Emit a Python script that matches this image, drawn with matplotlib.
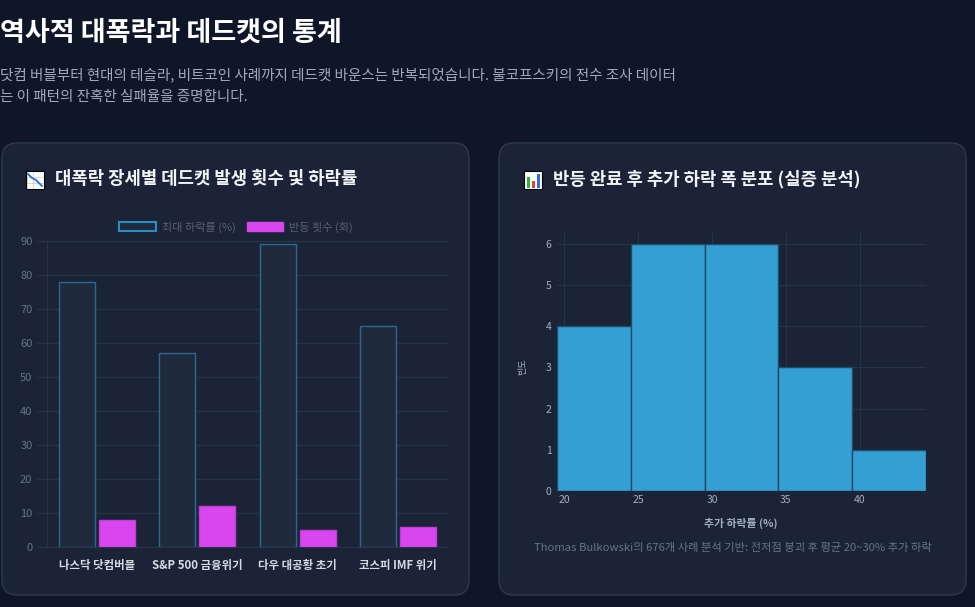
import matplotlib
matplotlib.use('Agg')
import matplotlib.pyplot as plt
from matplotlib.patches import FancyBboxPatch, Rectangle, Patch
import numpy as np

plt.rcParams['font.family'] = ['Noto Sans CJK KR', 'DejaVu Sans']

# data
crashes = ['나스닥 닷컴버블', 'S&P 500 금융위기', '다우 대공황 초기', '코스피 IMF 위기']
max_drop = [78, 57, 89, 65]
rebounds = [8, 12, 5, 6]

bin_left = [19.5, 24.5, 29.5, 34.5, 39.5]
bin_counts = [4, 6, 6, 3, 1]

BG = '#0e1628'
CARD = '#1b2436'
CARD_EDGE = '#2c3a4f'
GRID = '#283346'

W, H = 975, 607
fig = plt.figure(figsize=(W / 100, H / 100), dpi=100, facecolor=BG)

# background layer in pixel coords
bg = fig.add_axes([0, 0, 1, 1])
bg.set_xlim(0, W)
bg.set_ylim(H, 0)
bg.axis('off')
bg.set_facecolor(BG)

for x0 in (2, 499):
    bg.add_patch(FancyBboxPatch((x0, 143), 467, 452,
                                boxstyle='round,pad=0,rounding_size=15',
                                fc=CARD, ec=CARD_EDGE, lw=1))

bg.text(0, 33, '역사적 대폭락과 데드캣의 통계', color='white', fontsize=19.5,
        fontweight='bold', va='center', ha='left')
bg.text(0, 75, '닷컴 버블부터 현대의 테슬라, 비트코인 사례까지 데드캣 바운스는 반복되었습니다. 불코프스키의 전수 조사 데이터',
        color='#a0abbf', fontsize=10.5, va='center', ha='left')
bg.text(0, 97, '는 이 패턴의 잔혹한 실패율을 증명합니다.',
        color='#a0abbf', fontsize=10.5, va='center', ha='left')

# icons (emoji stand-ins)
bg.add_patch(Rectangle((26, 171), 18, 18, fc='white', ec='black', lw=0.8))
for g in (177, 183):
    bg.plot([27, 43], [g, g], color='#c8c8c8', lw=0.5)
    bg.plot([g - 150, g - 150], [172, 188], color='#c8c8c8', lw=0.5)
bg.plot([28, 32, 36, 42], [174, 178, 180, 186], color='#1e6fd9', lw=1.3)

bg.add_patch(Rectangle((524, 171), 18, 18, fc='white', ec='black', lw=0.8))
bg.add_patch(Rectangle((527, 177), 3, 11, fc='#2bb33a', lw=0))
bg.add_patch(Rectangle((532, 181), 3, 7, fc='#e8402a', lw=0))
bg.add_patch(Rectangle((537, 174), 3, 14, fc='#2a6fe0', lw=0))

bg.text(55, 179, '대폭락 장세별 데드캣 발생 횟수 및 하락률', color='#f1f5f9',
        fontsize=12.8, fontweight='bold', va='center', ha='left')
bg.text(553, 179, '반등 완료 후 추가 하락 폭 분포 (실증 분석)', color='#f1f5f9',
        fontsize=12.8, fontweight='bold', va='center', ha='left')


def fig_rect(x0, y0, x1, y1):
    return [x0 / W, 1 - y1 / H, (x1 - x0) / W, (y1 - y0) / H]


# left chart: grouped bars
ax1 = fig.add_axes(fig_rect(47, 241, 448, 547))
ax1.set_facecolor('none')
x = np.arange(len(crashes))
ax1.bar(x - 0.2, max_drop, width=0.36, color='#1f2a3d', edgecolor='#286a94',
        lw=1, zorder=3)
ax1.bar(x + 0.2, rebounds, width=0.36, color='#d946ef', edgecolor='#c23cd8',
        lw=1, zorder=3)
ax1.set_xlim(-0.5, 3.5)
ax1.set_ylim(0, 90)
ax1.set_yticks(range(0, 91, 10))
ax1.set_xticks(x)
ax1.set_xticklabels(crashes, fontsize=8.2, fontweight='bold', color='#d5dce6')
ax1.tick_params(axis='y', colors=GRID, labelcolor='#64748b', labelsize=8,
                length=7, width=1)
ax1.tick_params(axis='x', length=0, pad=9)
ax1.grid(axis='y', color=GRID, lw=1, zorder=0)
for s in ('top', 'right'):
    ax1.spines[s].set_visible(False)
for s in ('left', 'bottom'):
    ax1.spines[s].set_color(GRID)

handles = [Patch(fc='#1f2a3d', ec='#2a8fc0', lw=1.5, label='최대 하락률 (%)'),
           Patch(fc='#d946ef', ec='#d946ef', lw=1, label='반등 횟수 (회)')]
ax1.legend(handles=handles, loc='center', bbox_to_anchor=(236, 227),
           bbox_transform=bg.transData, ncol=2, frameon=False, fontsize=8,
           labelcolor='#56606f', handlelength=3.3, handleheight=0.9,
           columnspacing=1.0, handletextpad=0.5)

# right chart: histogram
ax2 = fig.add_axes(fig_rect(557, 232, 926, 491))
ax2.set_facecolor('none')
ax2.bar(bin_left, bin_counts, width=5, align='edge', color='#339fd2',
        edgecolor='#1f4a68', lw=1, zorder=3)
ax2.set_xlim(19.5, 44.5)
ax2.set_ylim(0, 6.29)
ax2.set_xticks([20, 25, 30, 35, 40])
ax2.set_yticks(range(0, 7))
ax2.grid(True, color=GRID, lw=0.8, zorder=0)
for s in ax2.spines.values():
    s.set_visible(False)
ax2.tick_params(length=0, colors='#a3aec0', labelsize=7.5)
ax2.tick_params(axis='y', pad=4)
ax2.tick_params(axis='x', pad=3)

bg.text(741, 523, '추가 하락률 (%)', color='#a3aec0', fontsize=7.8,
        fontweight='bold', ha='center', va='center')
bg.text(523, 367, '빈도', color='#a3aec0', fontsize=6.5, rotation=90,
        ha='center', va='center')
bg.text(733, 548, 'Thomas Bulkowski의 676개 사례 분석 기반: 전저점 붕괴 후 평균 20~30% 추가 하락',
        color='#64748b', fontsize=8.1, ha='center', va='center')

fig.savefig('out.png', dpi=100, facecolor=BG)
